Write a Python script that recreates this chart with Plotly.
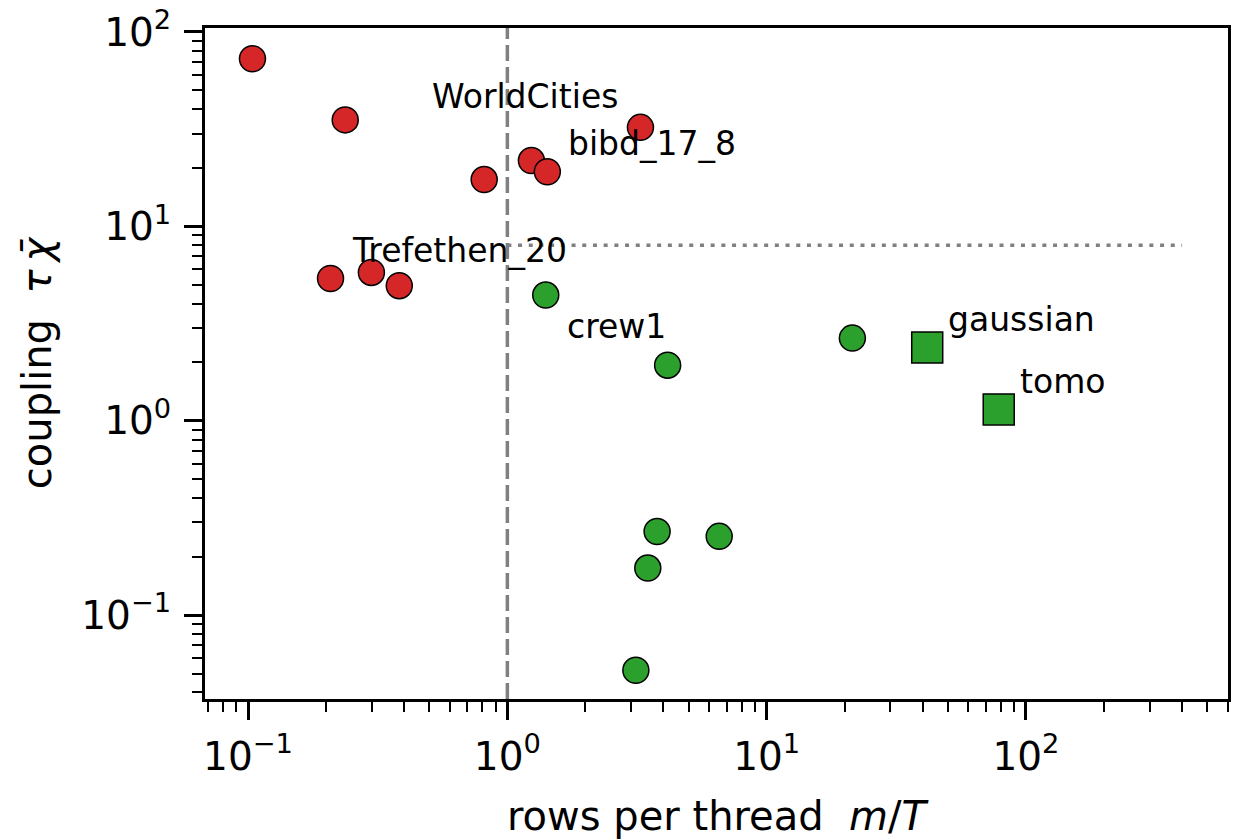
import math
import plotly.graph_objects as go

# ---- data ----
red_x = [0.104, 0.237, 0.814, 1.238, 1.426, 3.26, 0.208, 0.299, 0.383]
red_y = [72.8, 35.3, 17.4, 21.8, 19.1, 32.3, 5.39, 5.79, 4.95]

green_x = [1.406, 4.15, 21.4, 3.78, 6.56, 3.48, 3.13]
green_y = [4.43, 1.93, 2.66, 0.269, 0.254, 0.1745, 0.052]

square_x = [41.6, 78.5]
square_y = [2.38, 1.143]

# reference lines
vline_x = 1.0
hline_y = 8.0
hline_x_end = 400.0

# point labels: (text, series, index)
label_text = ["WorldCities", "bibd_17_8", "Trefethen_20", "crew1", "gaussian", "tomo"]
label_series = ["red", "red", "red", "green", "square", "square"]
label_index = [5, 4, 6, 0, 0, 1]

# axis ticks
x_tickvals = [0.1, 1, 10, 100]
x_ticktext = ["10<sup>\u22121</sup>", "10<sup>0</sup>", "10<sup>1</sup>", "10<sup>2</sup>"]
y_tickvals = [0.1, 1, 10, 100]
y_ticktext = ["10<sup>\u22121</sup>", "10<sup>0</sup>", "10<sup>1</sup>", "10<sup>2</sup>"]

x_title = "rows per thread\u00a0\u00a0<i>m</i>/<i>T</i>\u00a0\u00a0"
y_title = "coupling\u00a0\u00a0<i>\u03c4\u2009\u03c7\u0304</i>"

RED = "#d62728"
GREEN = "#2ca02c"
FONT = "DejaVu Sans"

series = {"red": (red_x, red_y), "green": (green_x, green_y), "square": (square_x, square_y)}

def minor_vals(lo_exp, hi_exp, lo, hi):
    out = []
    for e in range(lo_exp, hi_exp + 1):
        for m in range(2, 10):
            v = m * 10 ** e
            if lo <= v <= hi:
                out.append(v)
    return out

x_range_log = [-1.166, 2.779]
y_range_log = [-1.432, 2.0205]

fig = go.Figure()
fig.add_trace(go.Scatter(x=red_x, y=red_y, mode="markers",
                         marker=dict(symbol="circle", size=26, color=RED,
                                     line=dict(color="black", width=1.5)),
                         showlegend=False))
fig.add_trace(go.Scatter(x=green_x, y=green_y, mode="markers",
                         marker=dict(symbol="circle", size=26, color=GREEN,
                                     line=dict(color="black", width=1.5)),
                         showlegend=False))
fig.add_trace(go.Scatter(x=square_x, y=square_y, mode="markers",
                         marker=dict(symbol="square", size=31, color=GREEN,
                                     line=dict(color="black", width=1.5)),
                         showlegend=False))

# reference lines
fig.add_shape(type="line", xref="x", yref="paper", x0=vline_x, x1=vline_x, y0=0, y1=1,
              line=dict(color="#808080", width=3.5, dash="16px,6px"), layer="below")
fig.add_shape(type="line", xref="x", yref="y", x0=vline_x, x1=hline_x_end, y0=hline_y, y1=hline_y,
              line=dict(color="#808080", width=3.5, dash="4px,6.7px"), layer="below")

# labels attached to their points
label_style = {
    "WorldCities": dict(xanchor="right", xshift=-20, yshift=31),
    "crew1": dict(xanchor="left", xshift=19, yshift=-31),
}
for txt, s, i in zip(label_text, label_series, label_index):
    xs, ys = series[s]
    st = label_style.get(txt, dict(xanchor="left", xshift=19, yshift=28))
    fig.add_annotation(x=math.log10(xs[i]), y=math.log10(ys[i]), xref="x", yref="y",
                       text=txt, showarrow=False, yanchor="middle",
                       font=dict(family=FONT, size=33, color="black"), **st)

axis_common = dict(
    type="log", showgrid=False, zeroline=False,
    showline=True, linecolor="black", linewidth=3, mirror=True,
    ticks="outside", ticklen=18, tickwidth=3, tickcolor="black",
    tickfont=dict(family=FONT, size=39, color="black"),
)

fig.update_xaxes(range=x_range_log, tickmode="array", tickvals=x_tickvals, ticktext=x_ticktext,
                 minor=dict(ticks="outside", ticklen=10, tickwidth=2, tickcolor="black",
                            tickmode="array",
                            tickvals=minor_vals(-2, 2, 10 ** x_range_log[0], 10 ** x_range_log[1])),
                 title=dict(text=x_title, font=dict(family=FONT, size=40, color="black"), standoff=26),
                 ticklabelstandoff=3,
                 **axis_common)
fig.update_yaxes(range=y_range_log, tickmode="array", tickvals=y_tickvals, ticktext=y_ticktext,
                 minor=dict(ticks="outside", ticklen=10, tickwidth=2, tickcolor="black",
                            tickmode="array",
                            tickvals=minor_vals(-2, 1, 10 ** y_range_log[0], 10 ** y_range_log[1])),
                 title=dict(text=y_title, font=dict(family=FONT, size=40, color="black"), standoff=18),
                 ticklabelstandoff=5,
                 **axis_common)

fig.update_layout(
    width=1235, height=839,
    margin=dict(l=205, r=4, t=25, b=140, pad=0),
    plot_bgcolor="white", paper_bgcolor="white",
    font=dict(family=FONT, color="black"),
    showlegend=False,
)

fig.write_html("out.html")
